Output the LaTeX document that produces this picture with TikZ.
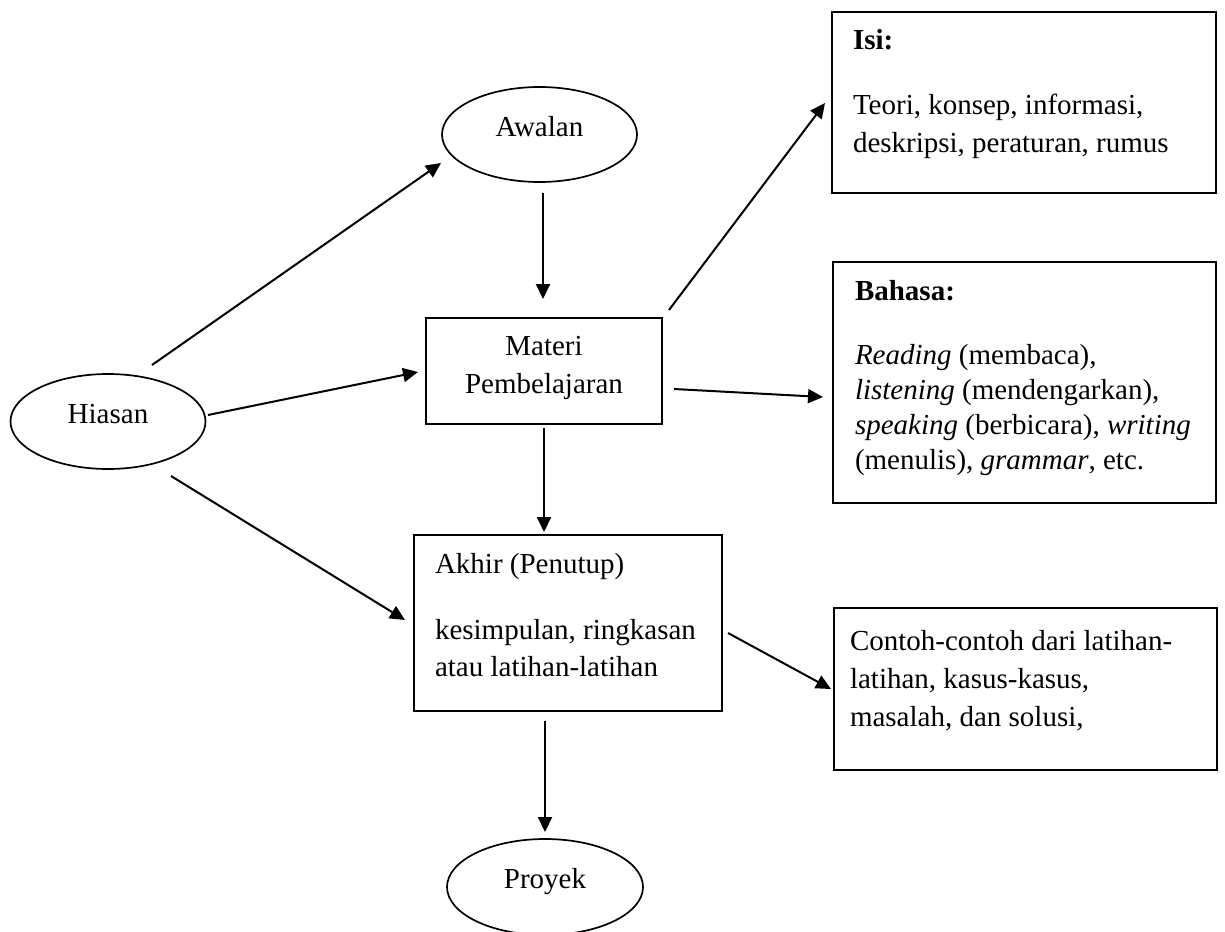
\documentclass[tikz,border=0pt]{standalone}
\usepackage{fontspec}
\setmainfont{Liberation Serif}
\usetikzlibrary{arrows.meta,shapes.geometric}
\begin{document}
\begin{tikzpicture}[x=0.5pt,y=-0.5pt,
  every node/.style={font=\fontsize{14.5pt}{17.5pt}\selectfont},
  oval/.style={draw,ellipse,line width=0.85pt,inner sep=0pt,outer sep=0pt,
    minimum width=97.5pt,minimum height=47.5pt,text height=4pt,text depth=2.5pt},
  box/.style={draw,rectangle,line width=1pt,inner sep=0pt,outer sep=0pt},
  txt/.style={inner sep=0pt,outer sep=0pt,anchor=base west},
  arr/.style={line width=1pt,-{Triangle[length=7.5pt,width=7pt]}}
]
\useasboundingbox[fill=white] (0,0) rectangle (1225,931);

% ellipses
\node[oval] (hiasan) at (108,421.5) {Hiasan};
\node[oval] (awalan) at (539.5,134.5) {Awalan};
\node[oval,minimum width=98pt,minimum height=48pt] (proyek) at (545,887) {Proyek};

% boxes
\node[box,minimum width=118pt,minimum height=53pt] (materi) at (544,371) {};
\node[box,minimum width=154pt,minimum height=88pt] (akhir) at (568,623) {};
\node[box,minimum width=192pt,minimum height=90.5pt] (isi) at (1024,102.5) {};
\node[box,minimum width=191.5pt,minimum height=120.5pt] (bahasa) at (1024.5,382.5) {};
\node[box,minimum width=191.5pt,minimum height=81pt] (contoh) at (1025.5,689) {};

% box texts
\node[inner sep=0pt,anchor=base] (materi-t) at (544,355)
  {\parbox[t]{110pt}{\centering\fontsize{14.5pt}{19pt}\selectfont Materi\\Pembelajaran}};
\node[txt] (isi-t) at (853,50)
  {\parbox[t]{182pt}{\raggedright\fontsize{14.5pt}{18.75pt}\selectfont
   \textbf{Isi:}\\[13.75pt]
   Teori, konsep, informasi,\\
   deskripsi, peraturan, rumus}};
\node[txt] (bahasa-t) at (855,300)
  {\parbox[t]{180pt}{\raggedright\fontsize{14.5pt}{17.5pt}\selectfont
   \textbf{Bahasa:}\\[14.5pt]
   \textit{Reading} (membaca),\\
   \textit{listening} (mendengarkan),\\
   \textit{speaking} (berbicara), \textit{writing}\\
   (menulis), \textit{grammar}, etc.}};
\node[txt] (akhir-t) at (435,573)
  {\parbox[t]{140pt}{\raggedright\fontsize{14.5pt}{18.25pt}\selectfont
   Akhir (Penutup)\\[15pt]
   kesimpulan, ringkasan\\
   atau latihan-latihan}};
\node[txt] (contoh-t) at (850,650)
  {\parbox[t]{182pt}{\raggedright\fontsize{14.5pt}{19pt}\selectfont
   Contoh-contoh dari latihan-\\
   latihan, kasus-kasus,\\
   masalah, dan solusi,}};

% connectors
\draw[arr] ([shift={(44,-56.5)}]hiasan.center) -- ([shift={(-98.5,28.5)}]awalan.center);
\draw[arr] ([shift={(3.5,58.5)}]awalan.center) -- ([shift={(-1,-72)}]materi.center);
\draw[arr] ([shift={(100,-6.5)}]hiasan.center) -- ([shift={(-126,1)}]materi.center);
\draw[arr] ([shift={(125,-61)}]materi.center) -- ([shift={(-199,0.5)}]isi.center);
\draw[arr] ([shift={(130,18)}]materi.center) -- ([shift={(-201.5,14.5)}]bahasa.center);
\draw[arr] ([shift={(0,57)}]materi.center) -- ([shift={(-24,-91)}]akhir.center);
\draw[arr] ([shift={(63,54.5)}]hiasan.center) -- ([shift={(-163,-3)}]akhir.center);
\draw[arr] ([shift={(160,10)}]akhir.center) -- ([shift={(-194.5,0)}]contoh.center);
\draw[arr] ([shift={(-23,98)}]akhir.center) -- ([shift={(0,-55)}]proyek.center);
\end{tikzpicture}
\end{document}
